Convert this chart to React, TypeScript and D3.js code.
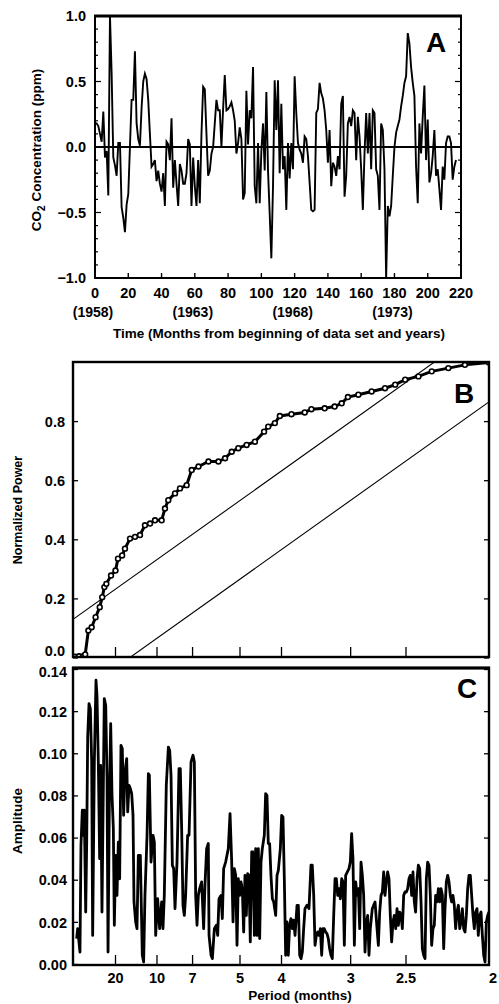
import React from "react";
import * as d3 from "d3";

// ---------- Panel A: CO2 residual series (monthly, months 0..217) ----------
const co2Anomaly = [
  0.18, 0.18, 0.16, 0.10, 0.04, 0.27, -0.08, -0.03, -0.37, 1.0,
  0.56, -0.08, -0.14, -0.22, 0.03, 0.03, -0.46, -0.54, -0.65, -0.44,
  -0.36, 0.0, 0.36, 0.36, 0.73, 0.18, 0.06, 0.01, 0.30, 0.50,
  0.56, 0.52, 0.36, 0.10, -0.15, -0.13, -0.10, -0.26, -0.18, -0.28,
  -0.34, -0.20, -0.45, 0.04, 0.02, -0.10, 0.22, -0.31, -0.10, -0.28,
  -0.45, -0.13, -0.18, -0.28, -0.28, -0.20, 0.06, 0.02, -0.45, -0.08,
  -0.30, -0.45, -0.10, -0.43, 0.10, 0.46, 0.44, 0.10, -0.22, -0.18,
  -0.05, 0.0, 0.18, 0.36, 0.28, 0.28, 0.0, 0.29, 0.55, 0.28,
  0.29, 0.31, 0.34, 0.28, 0.20, -0.05, 0.03, 0.15, 0.06, -0.40,
  -0.35, 0.43, 0.02, 0.28, 0.22, 0.61, -0.30, -0.43, 0.03, -0.43,
  -0.03, 0.18, -0.18, 0.42, -0.18, -0.51, -0.85, -0.30, 0.51, 0.13,
  0.51, -0.20, 0.33, -0.17, -0.07, -0.48, 0.03, -0.24, 0.03, -0.17,
  0.54, 0.26, 0.03, -0.02, -0.05, -0.12, 0.08, 0.06, -0.07, -0.27,
  -0.48, -0.49, -0.48, 0.26, 0.29, 0.49, 0.41, 0.37, 0.28, 0.13,
  -0.12, 0.13, -0.30, -0.12, -0.15, -0.22, -0.07, -0.17, 0.33, 0.39,
  -0.38, -0.22, 0.18, 0.23, 0.16, 0.28, 0.26, -0.10, 0.23, 0.08,
  -0.17, -0.48, -0.05, 0.26, -0.05, 0.26, -0.17, 0.28, 0.26, -0.17,
  -0.22, -0.48, 0.18, 0.13, -0.17, -1.0, -0.45, -0.53, -0.45, -0.22,
  0.0, 0.11, 0.16, 0.21, 0.31, 0.39, 0.49, 0.54, 0.87, 0.79,
  0.61, 0.49, 0.39, -0.15, -0.43, 0.18, -0.05, 0.23, 0.47, -0.10,
  0.21, -0.27, -0.20, -0.07, 0.13, -0.22, -0.17, -0.32, -0.48, -0.15,
  -0.25, 0.03, 0.08, 0.08, 0.03, -0.25, -0.15, -0.10,
];
const monthTicks = [0, 20, 40, 60, 80, 100, 120, 140, 160, 180, 200, 220];
const yearMonths = [0, 60, 120, 180];
const yearLabels = ["(1958)", "(1963)", "(1968)", "(1973)"];
const aTicks = [1.0, 0.5, 0.0, -0.5, -1.0];
const aTickLabels = ["1.0", "0.5", "0.0", "\u22120.5", "\u22121.0"];

// ---------- Panel B: cumulative periodogram ----------
const bFreq = [
  0.001, 0.006, 0.011, 0.0135, 0.0173, 0.0213, 0.026, 0.031, 0.034, 0.0366,
  0.039, 0.0446, 0.05, 0.053, 0.058, 0.0614, 0.0675, 0.0735, 0.0795, 0.0855,
  0.0916, 0.0976, 0.1056, 0.1096, 0.1136, 0.1217, 0.1277, 0.1357, 0.1418, 0.15,
  0.162, 0.174, 0.182, 0.19, 0.198, 0.208, 0.218, 0.229, 0.234, 0.242,
  0.248, 0.262, 0.278, 0.286, 0.302, 0.314, 0.3225, 0.33, 0.3426, 0.3586,
  0.3747, 0.387, 0.399, 0.415, 0.431, 0.451, 0.471, 0.5,
];
const bPower = [
  0.004, 0.006, 0.006, 0.012, 0.093, 0.104, 0.138, 0.172, 0.206, 0.24,
  0.251, 0.279, 0.296, 0.336, 0.347, 0.37, 0.404, 0.41, 0.416, 0.449,
  0.455, 0.466, 0.466, 0.506, 0.534, 0.557, 0.574, 0.585, 0.636, 0.648,
  0.665, 0.665, 0.676, 0.698, 0.71, 0.721, 0.732, 0.766, 0.783, 0.795,
  0.819, 0.825, 0.831, 0.842, 0.845, 0.851, 0.862, 0.883, 0.891, 0.902,
  0.913, 0.925, 0.942, 0.953, 0.97, 0.981, 0.992, 1.0,
];
const bTicks = [0.0, 0.2, 0.4, 0.6, 0.8];
const ksOffset = 0.133;

// ---------- Panel C: amplitude spectrum ----------
const cFreq = [
  0.0032, 0.0044, 0.0072, 0.0084, 0.01, 0.0112, 0.0124, 0.0141, 0.0153, 0.0165,
  0.0181, 0.0197, 0.0213, 0.0225, 0.0245, 0.0265, 0.0277, 0.0293, 0.0309, 0.0321,
  0.0337, 0.0365, 0.0382, 0.0398, 0.041, 0.0426, 0.0442, 0.0458, 0.0474, 0.0486,
  0.0502, 0.0518, 0.0534, 0.055, 0.0566, 0.0582, 0.0598, 0.0614, 0.0635, 0.0647,
  0.0663, 0.0679, 0.0695, 0.0711, 0.0723, 0.0743, 0.0759, 0.0775, 0.0799, 0.0823,
  0.0839, 0.0855, 0.088, 0.0896, 0.0908, 0.0928, 0.0952, 0.0968, 0.0984, 0.1008,
  0.1032, 0.1056, 0.1072, 0.1088, 0.1112, 0.1137, 0.1153, 0.1169, 0.1185, 0.1201,
  0.1217, 0.1241, 0.1265, 0.1281, 0.1297, 0.1313, 0.1329, 0.1345, 0.1369, 0.1386,
  0.141, 0.1434, 0.145, 0.1466, 0.1482, 0.1498, 0.1514, 0.1538, 0.1562, 0.1578,
  0.1598, 0.1618,
  0.1627, 0.1651, 0.1667, 0.1691, 0.1715, 0.1731, 0.1747, 0.1771, 0.1787, 0.1803,
  0.1827, 0.1859, 0.188, 0.19, 0.1916, 0.1932, 0.1948, 0.1964, 0.198, 0.1996,
  0.2012, 0.2028, 0.2044, 0.206, 0.2076, 0.2092, 0.2108, 0.2124, 0.2141, 0.2157,
  0.2173, 0.2189, 0.2205, 0.2221, 0.2237, 0.2253, 0.2269, 0.2293, 0.2309, 0.2325,
  0.2341, 0.2357, 0.2373, 0.239, 0.2406, 0.243, 0.2446, 0.2462, 0.2486, 0.2502,
  0.2518, 0.2534, 0.255, 0.2566, 0.2582, 0.2598, 0.2614, 0.2631, 0.2647, 0.2663,
  0.2687, 0.2703, 0.2719, 0.2735, 0.2751, 0.2767, 0.2783, 0.2807, 0.2831, 0.2855,
  0.2871, 0.2888, 0.2904, 0.292, 0.2936, 0.2952, 0.2968, 0.2984, 0.3, 0.3016,
  0.3032, 0.3048, 0.3064, 0.308, 0.3096, 0.3112, 0.3129, 0.3145, 0.3161, 0.3177,
  0.3193, 0.3209, 0.3225, 0.3241, 0.3257, 0.3273,
  0.3313, 0.3329, 0.3345, 0.3361, 0.3378, 0.3394, 0.341, 0.3426, 0.3442, 0.3458,
  0.3474, 0.349, 0.3506, 0.3522, 0.3538, 0.3554, 0.357, 0.3594, 0.361, 0.3627,
  0.3651, 0.3667, 0.3683, 0.3699, 0.3715, 0.3731, 0.3747, 0.3763, 0.3779, 0.3795,
  0.3811, 0.3827, 0.3843, 0.3859, 0.3876, 0.3892, 0.3908, 0.3924, 0.394, 0.3956,
  0.3972, 0.3988, 0.4004, 0.402, 0.4036, 0.4052, 0.4068, 0.4084, 0.41, 0.4116,
  0.4133, 0.4149, 0.4165, 0.4181, 0.4197, 0.4213, 0.4229, 0.4245, 0.4261, 0.4277,
  0.4293, 0.4309, 0.4325, 0.4341, 0.4357, 0.4373, 0.439, 0.4406, 0.4422, 0.4438,
  0.4454, 0.447, 0.4486, 0.4502, 0.4518, 0.4534, 0.455, 0.4566, 0.4582, 0.4598,
  0.4614, 0.4631, 0.4647, 0.4663, 0.4679, 0.4695, 0.4711, 0.4727, 0.4743, 0.4759,
  0.4775, 0.4791, 0.4807, 0.4823, 0.4839, 0.4855, 0.4871, 0.4888, 0.4904, 0.492,
  0.4936, 0.4952, 0.4968, 0.4984, 0.5,
];
const cAmp = [
  0.0123, 0.017, 0.0059, 0.0566, 0.0732, 0.0613, 0.0732, 0.0249, 0.0581, 0.108,
  0.1238, 0.1214, 0.0961, 0.0138, 0.0961, 0.1349, 0.1277, 0.0961, 0.0502, 0.0945,
  0.0249, 0.1262, 0.123, 0.0882, 0.0059, 0.0771, 0.1143, 0.0803, 0.0645, 0.0186,
  0.0518, 0.0328, 0.0581, 0.0407, 0.104, 0.1024, 0.0708, 0.0914, 0.0977, 0.0724,
  0.085, 0.0835, 0.0811, 0.0708, 0.0297, 0.0202, 0.017, 0.0518, 0.0518, 0.0044,
  0.0012, 0.0328, 0.0613, 0.0906, 0.0898, 0.0486, 0.0613, 0.0581, 0.0138, 0.0312,
  0.017, 0.0297, 0.017, 0.0328, 0.085, 0.1032, 0.1016, 0.0898, 0.0471, 0.0455,
  0.0265, 0.0486, 0.0929, 0.0929, 0.0645, 0.0281, 0.0233, 0.0328, 0.0613, 0.0613,
  0.0961, 0.0993, 0.0961, 0.0328, 0.0186, 0.0328, 0.036, 0.0392, 0.017, 0.0376,
  0.055, 0.0574,
  0.0138, 0.0044, 0.0028, 0.017, 0.0186, 0.0138, 0.0312, 0.0328, 0.0218, 0.0455,
  0.0486, 0.055, 0.0716, 0.0486, 0.0202, 0.0455, 0.0423, 0.0091, 0.0407, 0.0328,
  0.0392, 0.036, 0.0154, 0.0423, 0.0233, 0.0431, 0.0423, 0.0107, 0.0534, 0.0534,
  0.0138, 0.055, 0.0138, 0.055, 0.0123, 0.0486, 0.055, 0.0613, 0.0811, 0.0803,
  0.0574, 0.0574, 0.0423, 0.0312, 0.0297, 0.0233, 0.0423, 0.0447, 0.055, 0.0708,
  0.07, 0.0407, 0.0044, 0.0202, 0.0044, 0.0186, 0.0218, 0.017, 0.021, 0.0138,
  0.0281, 0.0281, 0.0044, 0.0028, 0.0059, 0.017, 0.0265, 0.0281, 0.0265, 0.0471,
  0.0471, 0.0328, 0.0091, 0.0138, 0.0154, 0.0138, 0.017, 0.0044, 0.017, 0.017,
  0.0154, 0.0146, 0.0123, 0.0075, 0.0044, 0.0028, 0.0233, 0.0407, 0.0407, 0.0328,
  0.036, 0.0312, 0.0407, 0.0392, 0.0091, 0.0423,
  0.0455, 0.0486, 0.0621, 0.0502, 0.0091, 0.0392, 0.0328, 0.036, 0.017, 0.0486,
  0.0423, 0.0328, 0.0059, 0.0202, 0.0233, 0.0044, 0.017, 0.0265, 0.0281, 0.0297,
  0.017, 0.0091, 0.0249, 0.0328, 0.0344, 0.0439, 0.0328, 0.0392, 0.0439, 0.0407,
  0.0233, 0.0107, 0.0202, 0.0233, 0.017, 0.0265, 0.0186, 0.0249, 0.0233, 0.017,
  0.0328, 0.0344, 0.0344, 0.036, 0.0407, 0.0423, 0.0328, 0.0439, 0.0297, 0.0249,
  0.0407, 0.0471, 0.0455, 0.0297, 0.0075, 0.0044, 0.0028, 0.0407, 0.0486, 0.0471,
  0.0328, 0.0091, 0.017, 0.0186, 0.0328, 0.0297, 0.036, 0.0297, 0.036, 0.0328,
  0.0075, 0.0265, 0.0392, 0.0423, 0.0392, 0.0328, 0.0297, 0.0328, 0.0281, 0.017,
  0.0249, 0.0281, 0.017, 0.0202, 0.0265, 0.017, 0.0154, 0.0233, 0.036, 0.0423,
  0.0423, 0.0328, 0.0233, 0.017, 0.0249, 0.0265, 0.0138, 0.0233, 0.0249, 0.0138,
  0.0044, 0.0012, 0.0202, 0.0233, 0.0249,
];
const cTicks = [0.0, 0.02, 0.04, 0.06, 0.08, 0.1, 0.12, 0.14];
const periodTicks = [20, 10, 7, 5, 4, 3, 2.5, 2];
const periodLabels = ["20", "10", "7", "5", "4", "3", "2.5", "2"];

const FONT = "'Liberation Sans', Arial, Helvetica, sans-serif";

export default function App() {
  // frames
  const A = { x0: 95, x1: 461, y0: 16, y1: 278 };
  const B = { x0: 73, x1: 489, y0: 362, y1: 657 };
  const C = { x0: 73, x1: 489, y0: 668, y1: 965 };

  const ax = d3.scaleLinear().domain([0, 220]).range([A.x0, A.x1]);
  const ay = d3.scaleLinear().domain([-1, 1]).range([A.y1, A.y0]);
  const fx = d3.scaleLinear().domain([0, 0.5]).range([74, 489]);
  const by = d3.scaleLinear().domain([0, 1]).range([658, 362.5]);
  const cy = d3.scaleLinear().domain([0, 0.14]).range([964.5, 669.5]);

  const aPath = d3
    .line<number>()
    .x((_, i) => ax(i))
    .y((d) => ay(d))(co2Anomaly) as string;

  const bPts = bFreq.map((f, i) => [f, bPower[i]] as [number, number]);
  const bPath = d3
    .line<[number, number]>()
    .x((d) => fx(d[0]))
    .y((d) => by(d[1]))(bPts) as string;

  const ksLine = (k: number) =>
    d3
      .line<number>()
      .x((f) => fx(f))
      .y((f) => by(2 * f + k))([-0.02, 0.52]) as string;

  const cPts = cFreq.map((f, i) => [f, cAmp[i]] as [number, number]);
  const cPath = d3
    .line<[number, number]>()
    .x((d) => fx(d[0]))
    .y((d) => cy(d[1]))(cPts) as string;

  const aMinor = d3.range(-10, 11).map((i) => i / 10);
  const isHalf = (v: number) => Math.abs(v * 2 - Math.round(v * 2)) < 1e-6;

  const textStyle = { fontFamily: FONT, fontWeight: 700 as const, fill: "#000" };

  return (
    <svg
      width={499}
      height={1004}
      style={{ position: "absolute", left: 0, top: 0, background: "#fff" }}
    >
      <defs>
        <clipPath id="clipA">
          <rect x={A.x0} y={A.y0 - 2} width={A.x1 - A.x0} height={A.y1 - A.y0 + 2} />
        </clipPath>
        <clipPath id="clipB">
          <rect x={B.x0} y={B.y0} width={B.x1 - B.x0} height={B.y1 - B.y0} />
        </clipPath>
        <clipPath id="clipC">
          <rect x={C.x0} y={C.y0} width={C.x1 - C.x0} height={C.y1 - C.y0} />
        </clipPath>
      </defs>
      <rect x={0} y={0} width={499} height={1004} fill="#fff" />

      {/* ================= Panel A ================= */}
      <g>
        <line x1={A.x0} x2={A.x1} y1={ay(0)} y2={ay(0)} stroke="#000" strokeWidth={2} />
        <path d={aPath} fill="none" stroke="#000" strokeWidth={1.9} strokeLinejoin="miter" clipPath="url(#clipA)" />
        <rect x={A.x0} y={A.y0} width={A.x1 - A.x0} height={A.y1 - A.y0} fill="none" stroke="#000" strokeWidth={2} />
        <line x1={A.x0 - 1} x2={A.x1 + 1} y1={A.y0} y2={A.y0} stroke="#000" strokeWidth={3} />
        {aMinor.map((v) => (
          <g key={"am" + v}>
            <line x1={A.x0} x2={A.x0 + (isHalf(v) ? 6 : 3)} y1={ay(v)} y2={ay(v)} stroke="#000" strokeWidth={1.2} />
            <line x1={A.x1} x2={A.x1 - (isHalf(v) ? 6 : 3)} y1={ay(v)} y2={ay(v)} stroke="#000" strokeWidth={1.2} />
          </g>
        ))}
        {monthTicks.map((m) => (
          <line key={"mt" + m} x1={ax(m)} x2={ax(m)} y1={A.y1} y2={A.y1 - 5} stroke="#000" strokeWidth={1.4} />
        ))}
        {aTicks.map((v, i) => (
          <text key={"al" + v} x={86} y={ay(v)} dy="0.36em" textAnchor="end" fontSize={14.5} {...textStyle}>
            {aTickLabels[i]}
          </text>
        ))}
        {monthTicks.map((m) => (
          <text key={"ml" + m} x={ax(m)} y={298} textAnchor="middle" fontSize={14.5} {...textStyle}>
            {m}
          </text>
        ))}
        {yearMonths.map((m, i) => (
          <text key={"yl" + m} x={ax(m) - 2} y={317} textAnchor="middle" fontSize={14} {...textStyle}>
            {yearLabels[i]}
          </text>
        ))}
        <text x={279} y={337.5} textAnchor="middle" fontSize={13.5} {...textStyle}>
          Time (Months from beginning of data set and years)
        </text>
        <text transform="translate(41,150) rotate(-90)" textAnchor="middle" fontSize={13.5} {...textStyle}>
          CO
          <tspan fontSize={10} dy={4}>2</tspan>
          <tspan dy={-4}> Concentration (ppm)</tspan>
        </text>
        <text x={436} y={52} textAnchor="middle" fontSize={28} {...textStyle}>
          A
        </text>
      </g>

      {/* ================= Panel B ================= */}
      <g>
        <g clipPath="url(#clipB)">
          <path d={ksLine(ksOffset)} fill="none" stroke="#000" strokeWidth={1.1} />
          <path d={ksLine(-ksOffset)} fill="none" stroke="#000" strokeWidth={1.1} />
          <path d={bPath} fill="none" stroke="#000" strokeWidth={3} />
          {bPts.map((d, i) => (
            <circle key={"bc" + i} cx={fx(d[0])} cy={by(d[1])} r={2.4} fill="#fff" stroke="#000" strokeWidth={1.6} />
          ))}
        </g>
        <rect x={B.x0} y={B.y0} width={B.x1 - B.x0} height={B.y1 - B.y0} fill="none" stroke="#000" strokeWidth={2.4} />
        {bTicks.map((v) => (
          <g key={"bt" + v}>
            <line x1={B.x0} x2={B.x0 + 5} y1={by(v)} y2={by(v)} stroke="#000" strokeWidth={1.3} />
            <line x1={B.x1} x2={B.x1 - 5} y1={by(v)} y2={by(v)} stroke="#000" strokeWidth={1.3} />
            <text x={65} y={Math.min(by(v), 651)} dy="0.36em" textAnchor="end" fontSize={14.5} {...textStyle}>
              {v.toFixed(1)}
            </text>
          </g>
        ))}
        {periodTicks.slice(0, -1).map((p) => (
          <line key={"bp" + p} x1={fx(1 / p)} x2={fx(1 / p)} y1={B.y1} y2={B.y1 - 10} stroke="#000" strokeWidth={1.3} />
        ))}
        <text transform="translate(22,510) rotate(-90)" textAnchor="middle" fontSize={12.5} {...textStyle}>
          Normalized Power
        </text>
        <text x={464} y={403} textAnchor="middle" fontSize={28} {...textStyle}>
          B
        </text>
      </g>

      {/* ================= Panel C ================= */}
      <g>
        <path d={cPath} fill="none" stroke="#000" strokeWidth={2.8} strokeLinejoin="round" clipPath="url(#clipC)" />
        <rect x={C.x0} y={C.y0} width={C.x1 - C.x0} height={C.y1 - C.y0} fill="none" stroke="#000" strokeWidth={2.4} />
        <line x1={C.x0 - 1} x2={C.x1 + 1} y1={C.y0} y2={C.y0} stroke="#000" strokeWidth={3} />
        {cTicks.map((v) => (
          <g key={"ct" + v}>
            <line x1={C.x0} x2={C.x0 + 5} y1={cy(v)} y2={cy(v)} stroke="#000" strokeWidth={1.3} />
            <line x1={C.x1} x2={C.x1 - 5} y1={cy(v)} y2={cy(v)} stroke="#000" strokeWidth={1.3} />
            <text x={67} y={Math.max(cy(v), 672)} dy="0.36em" textAnchor="end" fontSize={14.5} {...textStyle}>
              {v.toFixed(2)}
            </text>
          </g>
        ))}
        {periodTicks.map((p, i) => (
          <g key={"cp" + p}>
            {i < periodTicks.length - 1 && (
              <line x1={fx(1 / p)} x2={fx(1 / p)} y1={C.y1} y2={C.y1 - 10} stroke="#000" strokeWidth={1.3} />
            )}
            <text x={fx(1 / p) + (i === periodTicks.length - 1 ? 4 : 0)} y={983} textAnchor="middle" fontSize={14.5} {...textStyle}>
              {periodLabels[i]}
            </text>
          </g>
        ))}
        <text x={300} y={1000} textAnchor="middle" fontSize={13.5} {...textStyle}>
          Period (months)
        </text>
        <text transform="translate(22,821) rotate(-90)" textAnchor="middle" fontSize={13.5} {...textStyle}>
          Amplitude
        </text>
        <text x={467} y={698} textAnchor="middle" fontSize={28} {...textStyle}>
          C
        </text>
      </g>
    </svg>
  );
}
